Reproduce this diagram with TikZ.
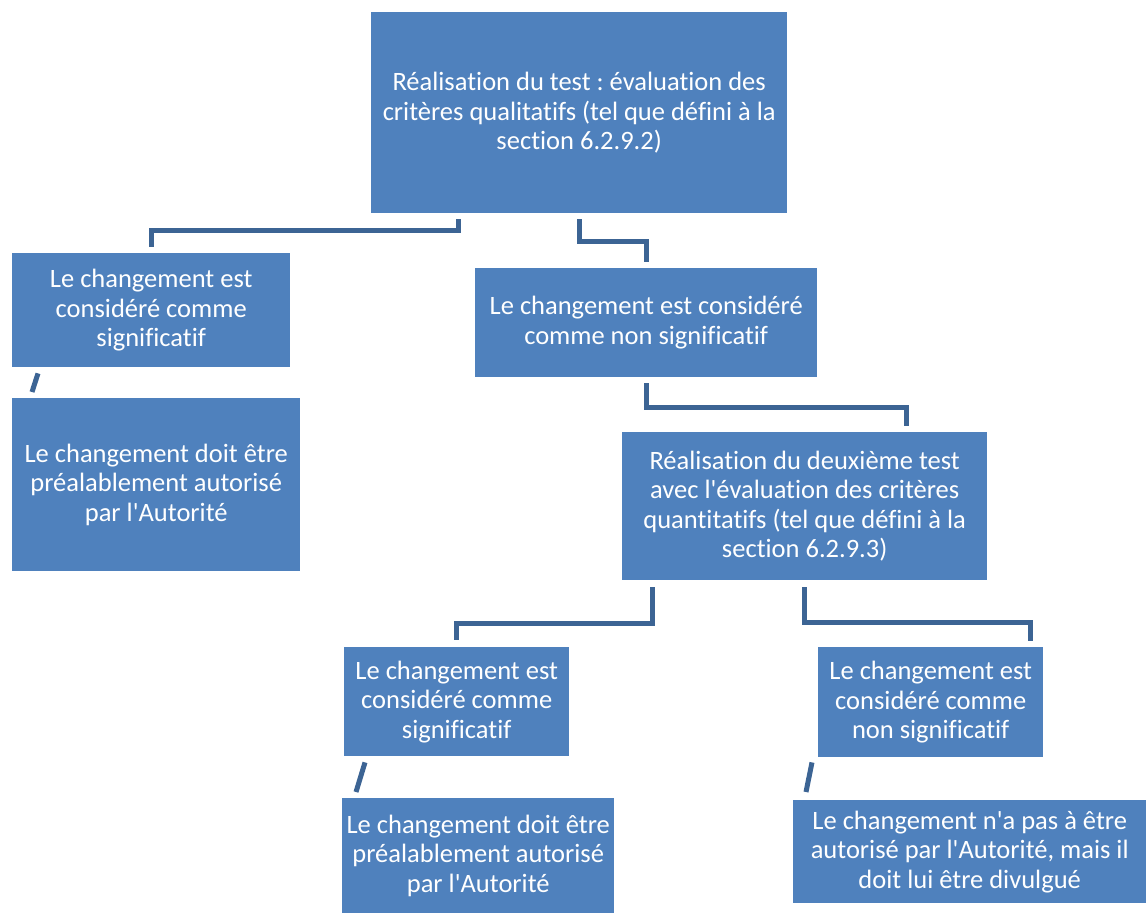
\documentclass[tikz,border=0pt]{standalone}
\usepackage{fontspec}
\newfontfamily\boxfont[Ligatures=NoCommon]{Carlito}
\definecolor{boxblue}{HTML}{4F81BD}
\definecolor{linkblue}{HTML}{3C6494}
\frenchspacing
\begin{document}
\begin{tikzpicture}[x=1pt,y=-1pt,
	box/.style={rectangle,fill=boxblue,anchor=north west,inner sep=0pt,text=white,align=center,
		font=\boxfont\fontsize{26.5}{29.5}\selectfont},
	link/.style={draw=linkblue,line width=5pt}]
	\useasboundingbox (0,0) rectangle (1146,913);

\node[box,minimum width=416pt,minimum height=201pt] (test1) at (371,12) {R\'ealisation du test : \'evaluation des\\crit\`eres qualitatifs (tel que d\'efini \`a la\\section 6.2.9.2)};
\node[box,minimum width=278pt,minimum height=114pt] (sig1) at (12,253) {Le changement est\\consid\'er\'e comme\\significatif};
\node[box,minimum width=342pt,minimum height=109pt] (nonsig1) at (475,268) {Le changement est consid\'er\'e\\comme non significatif};
\node[box,minimum width=288pt,minimum height=173pt] (auth1) at (12,398) {Le changement doit \^etre\\pr\'ealablement autoris\'e\\par l'Autorit\'e};
\node[box,minimum width=365pt,minimum height=148pt] (test2) at (622,432) {R\'ealisation du deuxi\`eme test\\avec l'\'evaluation des crit\`eres\\quantitatifs (tel que d\'efini \`a la\\section 6.2.9.3)};
\node[box,minimum width=225pt,minimum height=109pt] (sig2) at (344,647) {Le changement est\\consid\'er\'e comme\\significatif};
\node[box,minimum width=225pt,minimum height=110pt] (nonsig2) at (818,647) {Le changement est\\consid\'er\'e comme\\non significatif};
\node[box,minimum width=272pt,minimum height=115pt] (auth2) at (342,798) {Le changement doit \^etre\\pr\'ealablement autoris\'e\\par l'Autorit\'e};
\node[box,minimum width=353pt,minimum height=103pt] (disc) at (793,800) {Le changement n'a pas \`a \^etre\\autoris\'e par l'Autorit\'e, mais il\\doit lui \^etre divulgu\'e};

\draw[link] ([xshift=-121pt,yshift=-6pt]test1.south) -- ++(0,11) -| ([yshift=6pt]sig1.north);
\draw[link] ([yshift=-6pt]test1.south) |- ++(67,22) -| ([yshift=6pt]nonsig1.north);
\draw[link] ([yshift=-6pt]nonsig1.south) -- ++(0,24) -| ([xshift=102pt,yshift=6pt]test2.north);
\draw[link] ([xshift=-152pt,yshift=-7pt]test2.south) -- ++(0,36) -| ([yshift=7pt]sig2.north);
\draw[link] ([yshift=-7pt]test2.south) -- ++(0,35) -| ([xshift=100pt,yshift=6pt]nonsig2.north);
\draw[link] ([xshift=26pt,yshift=-6pt]sig1.south west) -- ([xshift=20pt,yshift=6pt]auth1.north west);
\draw[link] ([xshift=21pt,yshift=-6pt]sig2.south west) -- ([xshift=14pt,yshift=6pt]auth2.north west);
\draw[link] ([xshift=-6pt,yshift=-5pt]nonsig2.south west) -- ([xshift=13pt,yshift=8pt]disc.north west);
\end{tikzpicture}
\end{document}
